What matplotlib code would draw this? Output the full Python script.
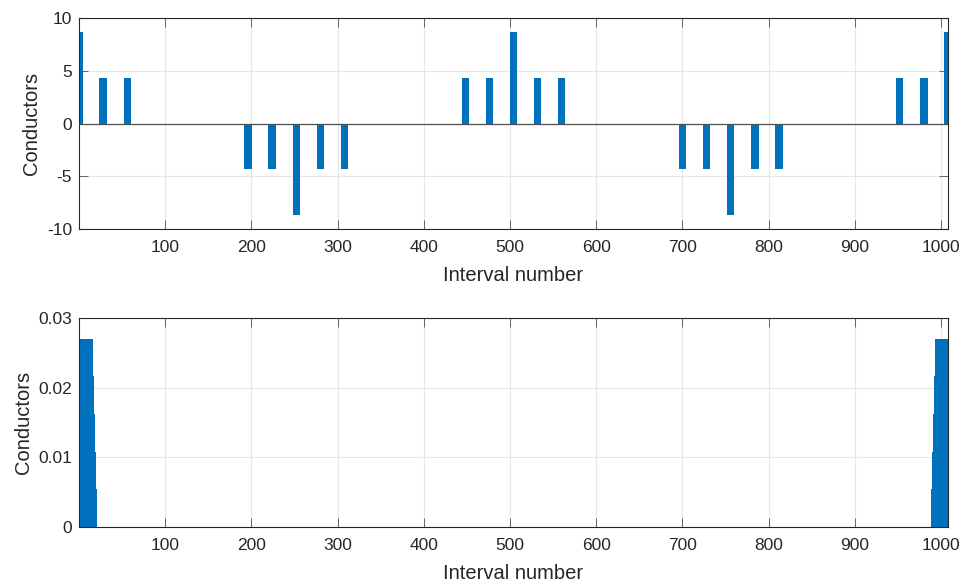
import matplotlib
matplotlib.use("Agg")
import matplotlib.pyplot as plt

plt.rcParams['font.family'] = ['Liberation Sans', 'DejaVu Sans']
plt.rcParams['axes.unicode_minus'] = False

# top: conductors per interval (slot positions)
top_pos = [0, 28, 56, 196, 224, 252, 280, 308, 448, 476, 504, 532, 560,
           700, 728, 756, 784, 812, 952, 980, 1008]
top_val = [8.66, 4.33, 4.33, -4.33, -4.33, -8.66, -4.33, -4.33,
           4.33, 4.33, 8.66, 4.33, 4.33, -4.33, -4.33, -8.66, -4.33, -4.33,
           4.33, 4.33, 8.66]

# bottom: nonzero intervals only
bot_pos_left = list(range(1, 21))
bot_val_left = [0.027, 0.027, 0.027, 0.027, 0.027, 0.027, 0.027, 0.027,
                0.027, 0.027, 0.027, 0.027, 0.027, 0.027, 0.027, 0.027,
                0.0217, 0.0162, 0.0108, 0.0054]
bot_pos_right = list(range(989, 1009))
bot_val_right = [0.0054, 0.0108, 0.0162, 0.0217,
                 0.027, 0.027, 0.027, 0.027, 0.027, 0.027, 0.027, 0.027,
                 0.027, 0.027, 0.027, 0.027, 0.027, 0.027, 0.027, 0.027]

xticks = [100, 200, 300, 400, 500, 600, 700, 800, 900, 1000]
blue = '#0072BD'
dark = '#262626'


def style_axes(ax):
    ax.set_xlim(0, 1008)
    ax.set_xticks(xticks)
    ax.grid(True, color='#e6e6e6', linewidth=0.8)
    ax.set_axisbelow(True)
    for s in ax.spines.values():
        s.set_color(dark)
        s.set_linewidth(0.8)
    ax.tick_params(direction='in', length=6.3, width=0.6, color='#4d4d4d',
                   labelcolor=dark, labelsize=12.5, top=True, right=True, pad=5)
    ax.tick_params(axis='x', pad=8)
    ax.set_xlabel('Interval number', fontsize=14.5, color=dark, labelpad=8)
    ax.set_ylabel('Conductors', fontsize=14.5, color=dark, labelpad=4)


fig = plt.figure(figsize=(9.63, 5.85), dpi=100)
ax1 = fig.add_axes([0.082, 0.6085, 0.9024, 0.3607])
ax2 = fig.add_axes([0.082, 0.0991, 0.9024, 0.357])

ax1.bar(top_pos, top_val, width=8.5, color=blue, zorder=2)
ax1.axhline(0, color='#505050', linewidth=0.9, zorder=3)
ax1.set_ylim(-10, 10)
ax1.set_yticks([-10, -5, 0, 5, 10])
style_axes(ax1)

ax2.bar(bot_pos_left, bot_val_left, width=1.0, color=blue, zorder=2)
ax2.bar(bot_pos_right, bot_val_right, width=1.0, color=blue, zorder=2)
ax2.set_ylim(0, 0.03)
ax2.set_yticks([0, 0.01, 0.02, 0.03])
ax2.set_yticklabels(['0', '0.01', '0.02', '0.03'])
style_axes(ax2)

fig.savefig('out.png', dpi=100)
